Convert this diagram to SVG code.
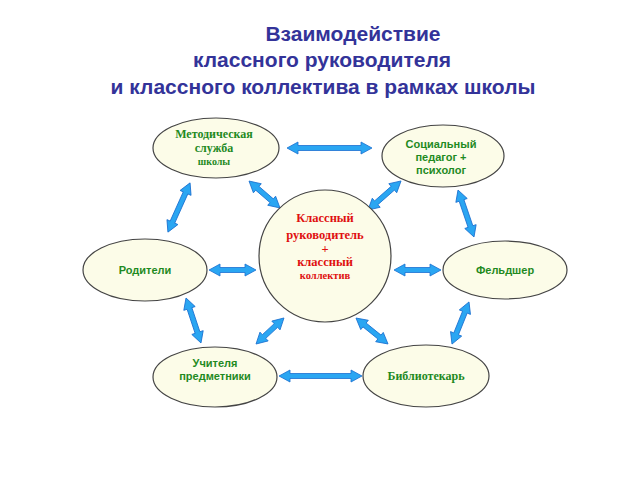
<svg xmlns="http://www.w3.org/2000/svg" width="640" height="480" viewBox="0 0 640 480">
<style>
.title{font-family:"Liberation Sans",Arial,sans-serif;font-weight:bold;font-size:21px;fill:#333399;text-anchor:middle}
.node{fill:#fcfce8;stroke:#444;stroke-width:1.2}
.ts{font-family:"Liberation Sans",Arial,sans-serif;font-weight:bold;font-size:11px;fill:#1f8a1f;text-anchor:middle}
.tr{font-family:"Liberation Serif","Times New Roman",serif;font-weight:bold;font-size:12px;fill:#1f8a1f;text-anchor:middle}
.tc{font-family:"Liberation Serif","Times New Roman",serif;font-weight:bold;font-size:12.5px;fill:#e01010;text-anchor:middle}
.arr{fill:#2aa6f2;stroke:#1a6fd0;stroke-width:0.8;stroke-linejoin:round}
</style>
<rect width="640" height="480" fill="#fff"/>
<g id="title">
<text class="title" x="353" y="41">Взаимодействие</text>
<text class="title" x="322" y="67">классного руководителя</text>
<text class="title" x="323" y="94">и классного коллектива в рамках школы</text>
</g>
<g id="connectors">
<path class="arr" transform="translate(329.5,148)" d="M-42.5 0L-31.5 -6L-31.5 -2.5L31.5 -2.5L31.5 -6L42.5 0L31.5 6L31.5 2.5L-31.5 2.5L-31.5 6Z"/>
<path class="arr" transform="translate(179,207.5) rotate(114.2)" d="M-27 0L-16 -6L-16 -2.5L16 -2.5L16 -6L27 0L16 6L16 2.5L-16 2.5L-16 6Z"/>
<path class="arr" transform="translate(264.5,194.5) rotate(41)" d="M-20.5 0L-9.5 -6L-9.5 -2.5L9.5 -2.5L9.5 -6L20.5 0L9.5 6L9.5 2.5L-9.5 2.5L-9.5 6Z"/>
<path class="arr" transform="translate(384.5,195.5) rotate(138.7)" d="M-22 0L-11 -6L-11 -2.5L11 -2.5L11 -6L22 0L11 6L11 2.5L-11 2.5L-11 6Z"/>
<path class="arr" transform="translate(466,213.5) rotate(71.2)" d="M-24.8 0L-13.8 -6L-13.8 -2.5L13.8 -2.5L13.8 -6L24.8 0L13.8 6L13.8 2.5L-13.8 2.5L-13.8 6Z"/>
<path class="arr" transform="translate(232.5,270)" d="M-23.5 0L-12.5 -6L-12.5 -2.5L12.5 -2.5L12.5 -6L23.5 0L12.5 6L12.5 2.5L-12.5 2.5L-12.5 6Z"/>
<path class="arr" transform="translate(417.5,270)" d="M-23.5 0L-12.5 -6L-12.5 -2.5L12.5 -2.5L12.5 -6L23.5 0L12.5 6L12.5 2.5L-12.5 2.5L-12.5 6Z"/>
<path class="arr" transform="translate(193.5,320.5) rotate(71.6)" d="M-23.7 0L-12.7 -6L-12.7 -2.5L12.7 -2.5L12.7 -6L23.7 0L12.7 6L12.7 2.5L-12.7 2.5L-12.7 6Z"/>
<path class="arr" transform="translate(270,331) rotate(137)" d="M-19.1 0L-8.1 -6L-8.1 -2.5L8.1 -2.5L8.1 -6L19.1 0L8.1 6L8.1 2.5L-8.1 2.5L-8.1 6Z"/>
<path class="arr" transform="translate(372,331) rotate(39)" d="M-20.6 0L-9.6 -6L-9.6 -2.5L9.6 -2.5L9.6 -6L20.6 0L9.6 6L9.6 2.5L-9.6 2.5L-9.6 6Z"/>
<path class="arr" transform="translate(460.5,323) rotate(112)" d="M-22.7 0L-11.7 -6L-11.7 -2.5L11.7 -2.5L11.7 -6L22.7 0L11.7 6L11.7 2.5L-11.7 2.5L-11.7 6Z"/>
<path class="arr" transform="translate(320.5,376)" d="M-41.5 0L-30.5 -6L-30.5 -2.5L30.5 -2.5L30.5 -6L41.5 0L30.5 6L30.5 2.5L-30.5 2.5L-30.5 6Z"/>
</g>
<g id="metod">
<ellipse class="node" cx="216" cy="148" rx="63" ry="30"/>
<text class="tr" x="214" y="138">Методическая</text>
<text class="tr" x="214" y="152">служба</text>
<text class="tr" x="214" y="165" style="font-size:10px">школы</text>
</g>
<g id="social">
<ellipse class="node" cx="443" cy="156" rx="61" ry="31"/>
<text class="ts" x="441" y="148">Социальный</text>
<text class="ts" x="441" y="161">педагог +</text>
<text class="ts" x="441" y="174">психолог</text>
</g>
<g id="center">
<circle class="node" cx="325" cy="256" r="66"/>
<text class="tc" x="325" y="222">Классный</text>
<text class="tc" x="325" y="239">руководитель</text>
<text class="tc" x="325" y="253">+</text>
<text class="tc" x="325" y="266">классный</text>
<text class="tc" x="325" y="279" style="font-size:10.5px">коллектив</text>
</g>
<g id="parents">
<ellipse class="node" cx="145" cy="270" rx="62" ry="31"/>
<text class="ts" x="145" y="274">Родители</text>
</g>
<g id="feldsher">
<ellipse class="node" cx="505" cy="270" rx="62" ry="29"/>
<text class="ts" x="505" y="274">Фельдшер</text>
</g>
<g id="teachers">
<ellipse class="node" cx="215" cy="377" rx="62" ry="30"/>
<text class="ts" x="215" y="367">Учителя</text>
<text class="ts" x="215" y="380">предметники</text>
</g>
<g id="librarian">
<ellipse class="node" cx="426" cy="376" rx="63" ry="31"/>
<text class="tr" x="426" y="380">Библиотекарь</text>
</g>
</svg>
